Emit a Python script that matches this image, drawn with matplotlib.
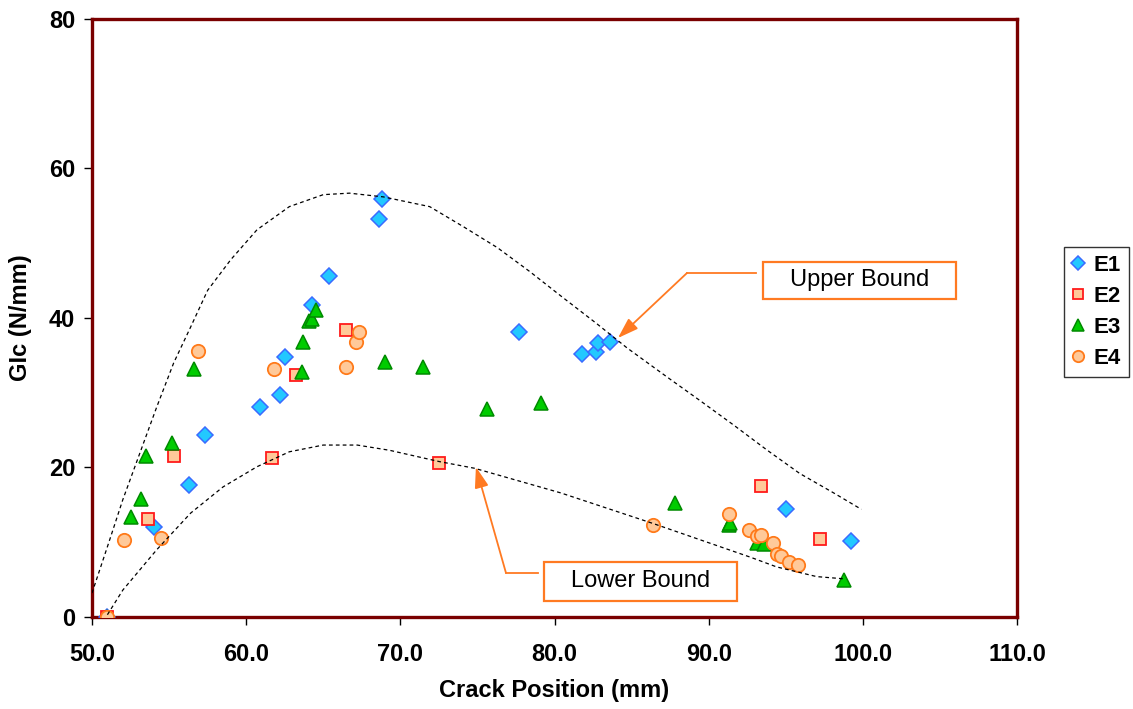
import matplotlib
matplotlib.use("Agg")
import matplotlib.pyplot as plt
from matplotlib.patches import Rectangle

plt.rcParams['font.family'] = ['Liberation Sans', 'DejaVu Sans']

# ---- data ----
e1_x = [51.0, 54.0, 56.3, 57.3, 60.9, 62.2, 62.5, 64.3, 65.4, 68.6, 68.8,
        77.7, 81.8, 82.7, 82.8, 83.6, 95.0, 99.2]
e1_y = [0.0, 12.0, 17.7, 24.3, 28.1, 29.7, 34.8, 41.7, 45.6, 53.2, 55.9,
        38.1, 35.2, 35.5, 36.7, 36.8, 14.4, 10.2]

e2_x = [51.0, 53.6, 55.3, 61.7, 63.2, 66.5, 72.5, 93.4, 97.2]
e2_y = [0.0, 13.1, 21.5, 21.3, 32.4, 38.4, 20.6, 17.5, 10.4]

e3_x = [51.0, 52.5, 53.2, 53.5, 55.2, 56.6, 63.6, 63.7, 64.1, 64.3, 64.5,
        69.0, 71.5, 75.6, 79.1, 87.8, 91.3, 91.4, 93.1, 93.6, 98.8]
e3_y = [0.0, 13.4, 15.8, 21.5, 23.3, 33.2, 32.8, 36.8, 39.6, 39.9, 41.1,
        34.1, 33.4, 27.8, 28.6, 15.3, 12.3, 12.6, 9.9, 9.8, 5.0]

e4_x = [51.0, 52.1, 54.5, 56.9, 61.8, 66.5, 67.1, 67.3, 86.4, 91.3, 92.6,
        93.1, 93.4, 94.2, 94.4, 94.7, 95.2, 95.8]
e4_y = [0.0, 10.3, 10.6, 35.6, 33.2, 33.4, 36.8, 38.1, 12.3, 13.8, 11.6,
        10.8, 11.0, 9.9, 8.4, 8.2, 7.4, 7.0]

upper_x = [50.0, 51.0, 52.0, 53.1, 54.2, 55.3, 56.4, 57.5, 59.0, 60.7, 62.8,
           65.0, 66.7, 68.9, 71.9, 74.1, 76.3, 78.4, 80.5, 82.7, 84.7, 87.3,
           89.4, 91.6, 93.8, 95.9, 98.1, 99.9]
upper_y = [3.2, 9.4, 15.7, 21.9, 28.1, 34.0, 38.8, 43.7, 47.8, 51.8, 54.9,
           56.5, 56.7, 56.2, 54.9, 52.2, 49.4, 46.2, 42.8, 39.3, 36.0, 32.1,
           29.0, 25.7, 22.3, 19.2, 16.6, 14.4]

lower_x = [51.0, 52.0, 54.2, 56.4, 58.5, 60.7, 62.8, 65.0, 67.2, 69.3, 72.5,
           74.8, 80.4, 86.4, 92.7, 94.4, 97.0, 98.8]
lower_y = [0.3, 3.6, 9.0, 13.9, 17.4, 20.1, 22.1, 23.0, 23.0, 22.3, 20.8,
           19.9, 16.6, 12.5, 8.0, 6.7, 5.4, 5.1]

x_ticks = [50, 60, 70, 80, 90, 100, 110]
y_ticks = [0, 20, 40, 60, 80]
series_labels = ['E1', 'E2', 'E3', 'E4']

# ---- figure ----
fig = plt.figure(figsize=(11.33, 7.09), dpi=100)
ax = fig.add_axes([0.0812, 0.1298, 0.8165, 0.8434])

ax.plot(e1_x, e1_y, linestyle='none', marker='D', ms=7.8, mfc='#22C8FF',
        mec='#3A6BFF', mew=1.1, label=series_labels[0], zorder=3)
ax.plot(e2_x, e2_y, linestyle='none', marker='s', ms=9.2, mfc='#FFC999',
        mec='#FF1A1A', mew=1.3, label=series_labels[1], zorder=3)
ax.plot(e3_x, e3_y, linestyle='none', marker='^', ms=10.2, mfc='#00CC00',
        mec='#008A00', mew=1.1, label=series_labels[2], zorder=3)
ax.plot(e4_x, e4_y, linestyle='none', marker='o', ms=9.6, mfc='#FFC999',
        mec='#FF7A1A', mew=1.3, label=series_labels[3], zorder=3)

ax.plot(upper_x, upper_y, color='black', lw=0.9, linestyle=(0, (3, 2.5)), zorder=4)
ax.plot(lower_x, lower_y, color='black', lw=0.9, linestyle=(0, (3, 2.5)), zorder=4)

orange = '#FF7A22'
# Upper Bound annotation
ax.plot([93.06, 88.59], [46.02, 46.02], color=orange, lw=1.3, zorder=5)
ax.annotate('', xy=(84.11, 37.32), xytext=(88.59, 46.02),
            arrowprops=dict(arrowstyle='-|>,head_length=0.9,head_width=0.3',
                            color=orange, lw=1.3, shrinkA=0, shrinkB=0,
                            mutation_scale=14), zorder=5)
ax.add_patch(Rectangle((93.52, 42.54), 12.51, 4.95, fc='white', ec=orange,
                       lw=1.6, zorder=5))
ax.text(99.77, 45.02, 'Upper Bound', ha='center', va='center', fontsize=17,
        zorder=6)

# Lower Bound annotation
ax.plot([78.92, 76.85], [5.89, 5.89], color=orange, lw=1.3, zorder=5)
ax.annotate('', xy=(74.90, 20.07), xytext=(76.85, 5.89),
            arrowprops=dict(arrowstyle='-|>,head_length=0.9,head_width=0.3',
                            color=orange, lw=1.3, shrinkA=0, shrinkB=0,
                            mutation_scale=14), zorder=5)
ax.add_patch(Rectangle((79.31, 2.14), 12.52, 5.22, fc='white', ec=orange,
                       lw=1.6, zorder=5))
ax.text(85.57, 4.75, 'Lower Bound', ha='center', va='center', fontsize=17,
        zorder=6)

ax.set_xlim(50, 110)
ax.set_ylim(0, 80)
ax.set_xticks(x_ticks)
ax.set_xticklabels([f'{v:.1f}' for v in x_ticks])
ax.set_yticks(y_ticks)
ax.set_yticklabels([str(v) for v in y_ticks])
ax.tick_params(direction='out', length=6, width=1, colors='black',
               labelsize=17)
ax.tick_params(axis='x', pad=13)
ax.tick_params(axis='y', pad=6)
for lab in ax.get_xticklabels() + ax.get_yticklabels():
    lab.set_fontweight('bold')

for sp in ax.spines.values():
    sp.set_color('#7A0000')
    sp.set_linewidth(2.4)

ax.set_xlabel('Crack Position (mm)', fontsize=17, fontweight='bold', labelpad=9)
ax.set_ylabel('GIc (N/mm)', fontsize=17, fontweight='bold', labelpad=12)

leg = ax.legend(loc='upper left', bbox_to_anchor=(0.939, 0.6516),
                bbox_transform=fig.transFigure, borderaxespad=0,
                frameon=True, fancybox=False, edgecolor='black',
                prop={'size': 16, 'weight': 'bold'}, handlelength=0.6,
                handletextpad=0.4, labelspacing=0.45, borderpad=0.35,
                markerscale=0.85)
leg.get_frame().set_linewidth(1.0)

fig.savefig('out.png', dpi=100)
